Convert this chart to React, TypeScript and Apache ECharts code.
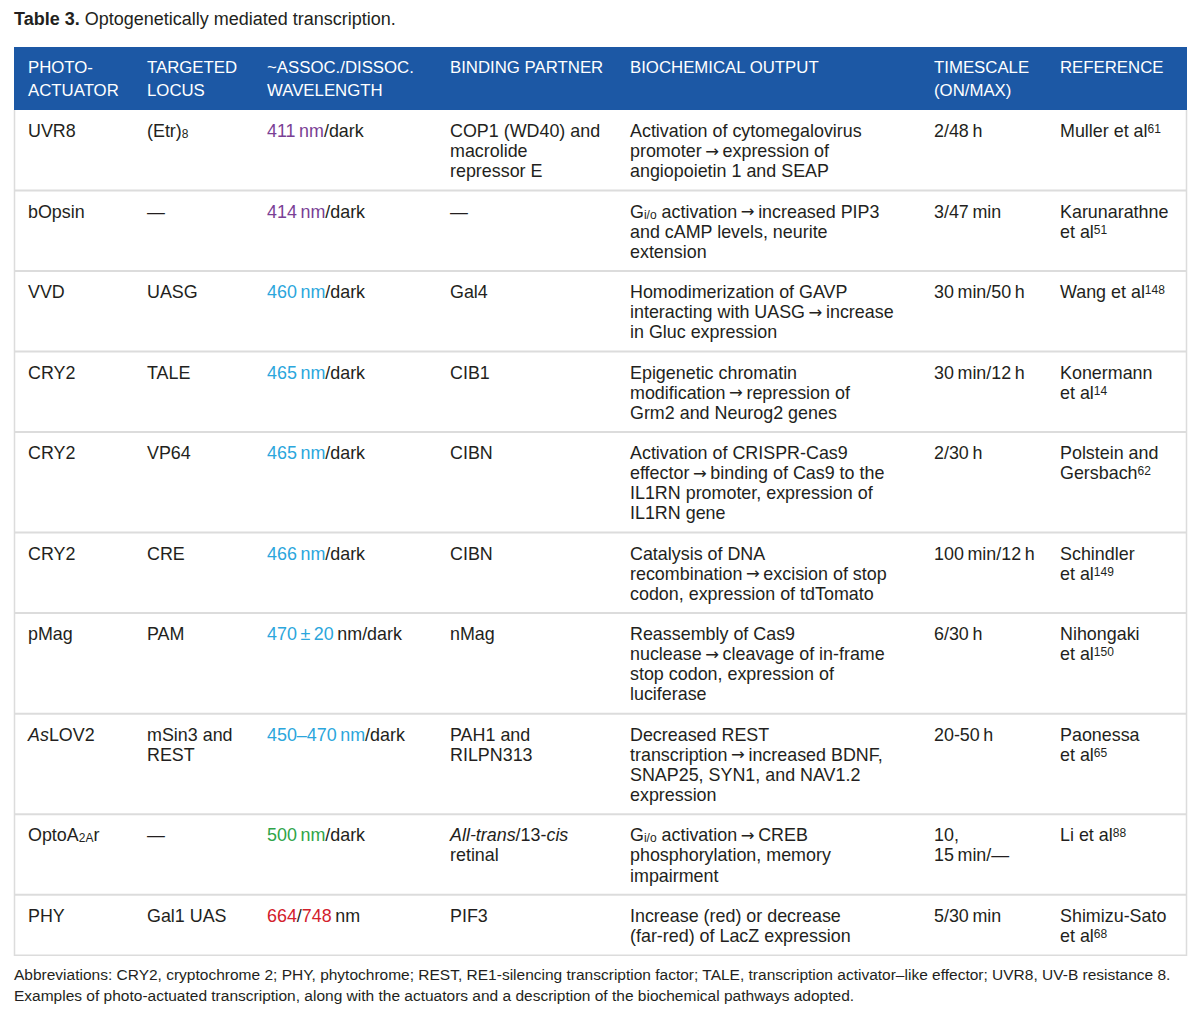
import React, { useEffect, useRef } from "react";
import * as echarts from "echarts";

const TS = "\u2009"; // thin space
const AR = `${TS}{arr|\u2192}${TS}`;

const titleBold = "Table 3.";
const titleRest = " Optogenetically mediated transcription.";

const headers = [
  "PHOTO-\nACTUATOR",
  "TARGETED\nLOCUS",
  "~ASSOC./DISSOC.\nWAVELENGTH",
  "BINDING PARTNER",
  "BIOCHEMICAL OUTPUT",
  "TIMESCALE\n(ON/MAX)",
  "REFERENCE",
];

const photoActuators = [
  "UVR8",
  "bOpsin",
  "VVD",
  "CRY2",
  "CRY2",
  "CRY2",
  "pMag",
  "{it|As}LOV2",
  "OptoA{sub|2A}r",
  "PHY",
];

const targetedLoci = [
  "(Etr){sub|8}",
  "\u2014",
  "UASG",
  "TALE",
  "VP64",
  "CRE",
  "PAM",
  "mSin3 and\nREST",
  "\u2014",
  "Gal1 UAS",
];

const wavelengths = [
  `{pur|411${TS}nm}/dark`,
  `{pur|414${TS}nm}/dark`,
  `{cya|460${TS}nm}/dark`,
  `{cya|465${TS}nm}/dark`,
  `{cya|465${TS}nm}/dark`,
  `{cya|466${TS}nm}/dark`,
  `{cya|470${TS}±${TS}20}${TS}nm/dark`,
  `{cya|450\u2013470${TS}nm}/dark`,
  `{grn|500${TS}nm}/dark`,
  `{red|664}/{red|748}${TS}nm`,
];

const bindingPartners = [
  "COP1 (WD40) and\nmacrolide\nrepressor E",
  "\u2014",
  "Gal4",
  "CIB1",
  "CIBN",
  "CIBN",
  "nMag",
  "PAH1 and\nRILPN313",
  "{it|All-trans}/13-{it|cis}\nretinal",
  "PIF3",
];

const biochemicalOutputs = [
  `Activation of cytomegalovirus\npromoter${AR}expression of\nangiopoietin 1 and SEAP`,
  `G{sub|i/o} activation${AR}increased PIP3\nand cAMP levels, neurite\nextension`,
  `Homodimerization of GAVP\ninteracting with UASG${AR}increase\nin Gluc expression`,
  `Epigenetic chromatin\nmodification${AR}repression of\nGrm2 and Neurog2 genes`,
  `Activation of CRISPR-Cas9\neffector${AR}binding of Cas9 to the\nIL1RN promoter, expression of\nIL1RN gene`,
  `Catalysis of DNA\nrecombination${AR}excision of stop\ncodon, expression of tdTomato`,
  `Reassembly of Cas9\nnuclease${AR}cleavage of in-frame\nstop codon, expression of\nluciferase`,
  `Decreased REST\ntranscription${AR}increased BDNF,\nSNAP25, SYN1, and NAV1.2\nexpression`,
  `G{sub|i/o} activation${AR}CREB\nphosphorylation, memory\nimpairment`,
  `Increase (red) or decrease\n(far-red) of LacZ expression`,
];

const timescales = [
  `2/48${TS}h`,
  `3/47${TS}min`,
  `30${TS}min/50${TS}h`,
  `30${TS}min/12${TS}h`,
  `2/30${TS}h`,
  `100${TS}min/12${TS}h`,
  `6/30${TS}h`,
  `20-50${TS}h`,
  `10,\n15${TS}min/\u2014`,
  `5/30${TS}min`,
];

const references = [
  "Muller et al{sup|61}",
  "Karunarathne\net al{sup|51}",
  "Wang et al{sup|148}",
  "Konermann\net al{sup|14}",
  "Polstein and\nGersbach{sup|62}",
  "Schindler\net al{sup|149}",
  "Nihongaki\net al{sup|150}",
  "Paonessa\net al{sup|65}",
  "Li et al{sup|88}",
  "Shimizu-Sato\net al{sup|68}",
];

const footnotes = [
  "Abbreviations: CRY2, cryptochrome 2; PHY, phytochrome; REST, RE1-silencing transcription factor; TALE, transcription activator\u2013like effector; UVR8, UV-B resistance 8.",
  "Examples of photo-actuated transcription, along with the actuators and a description of the biochemical pathways adopted.",
];

const columns = [
  photoActuators,
  targetedLoci,
  wavelengths,
  bindingPartners,
  biochemicalOutputs,
  timescales,
  references,
];

// ---- layout / style ----
const FONT = "'Liberation Sans', Arial, Helvetica, sans-serif";
const TEXT = "#231f20";
const BLUE = "#1c58a5";
const GRID = "#dcdcdc";
const colX = [28, 147, 267, 450, 630, 934, 1060];
const tableL = 14;
const tableR = 1187;
const headTop = 47;
const headBottom = 110;
const bodyFS = 17.9;
const headFS = 16.8;
const LH = 20.1;

function App() {
  const ref = useRef<HTMLDivElement>(null);
  useEffect(() => {
    document.body.style.margin = "0";
    const chart = echarts.init(ref.current!, null, { renderer: "svg" });

    const base = { fontSize: bodyFS, fontFamily: FONT, fill: TEXT, lineHeight: LH };
    const rich: any = {
      it: { ...base, fontStyle: "italic" },
      sub: { fontSize: 12, fontFamily: FONT, fill: TEXT, lineHeight: 11, verticalAlign: "bottom", padding: [0, 0, 1, 0] },
      sup: { fontSize: 12, fontFamily: FONT, fill: TEXT, lineHeight: 11, verticalAlign: "top", padding: [2, 0, 0, 0] },
      arr: { ...base, fontFamily: "'DejaVu Sans', sans-serif", fontSize: 16.5 },
      pur: { ...base, fill: "#7a3f95" },
      cya: { ...base, fill: "#2ba6dc" },
      grn: { ...base, fill: "#2fa449" },
      red: { ...base, fill: "#d3202c" },
    };

    const els: any[] = [];
    // title
    els.push({
      type: "text",
      x: 14,
      y: 10,
      style: {
        text: `{b|${titleBold}}{n|${titleRest}}`,
        rich: {
          b: { fontSize: 18, fontFamily: FONT, fontWeight: "bold", fill: TEXT },
          n: { fontSize: 18, fontFamily: FONT, fill: TEXT },
        },
        verticalAlign: "top",
      },
    });
    // header
    els.push({
      type: "rect",
      shape: { x: tableL, y: headTop, width: tableR - tableL, height: headBottom - headTop },
      style: { fill: BLUE },
    });
    headers.forEach((h, i) => {
      els.push({
        type: "text",
        x: colX[i],
        y: 56,
        style: { text: h, fill: "#ffffff", fontSize: headFS, fontFamily: FONT, lineHeight: 23, verticalAlign: "top" },
      });
    });

    // rows
    let top = headBottom;
    const nRows = photoActuators.length;
    for (let r = 0; r < nRows; r++) {
      const lines = Math.max(...columns.map((c) => c[r].split("\n").length));
      const h = lines * LH + 20.2;
      columns.forEach((col, ci) => {
        els.push({
          type: "text",
          x: colX[ci],
          y: top + 11,
          style: { text: col[r], ...base, rich, verticalAlign: "top" },
        });
      });
      top += h;
      if (r < nRows - 1) {
        els.push({
          type: "line",
          shape: { x1: tableL, y1: top, x2: tableR, y2: top },
          style: { stroke: GRID, lineWidth: 2 },
        });
      }
    }
    // outer border of body
    els.push({
      type: "polyline",
      shape: { points: [[tableL + 0.5, headBottom], [tableL + 0.5, top], [tableR - 0.5, top], [tableR - 0.5, headBottom]] },
      style: { stroke: GRID, lineWidth: 1.5, fill: "none" },
    });

    // footnotes
    footnotes.forEach((f, i) => {
      els.push({
        type: "text",
        x: 14,
        y: 966 + i * 21,
        style: { text: f, fill: TEXT, fontSize: 15.5, fontFamily: FONT, verticalAlign: "top" },
      });
    });

    chart.setOption({ animation: false, graphic: { elements: els } });
    return () => chart.dispose();
  }, []);
  return <div ref={ref} style={{ width: 1200, height: 1019 }} />;
}

export default App;
